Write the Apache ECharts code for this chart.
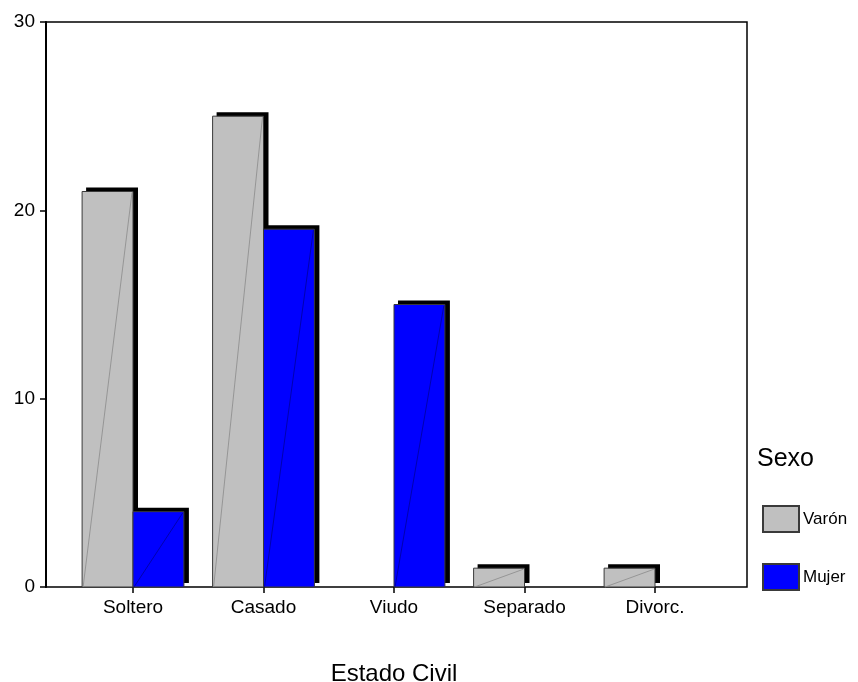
<!DOCTYPE html>
<html>
<head>
<meta charset="utf-8">
<script src="https://cdn.jsdelivr.net/npm/echarts@6/dist/echarts.min.js"></script>
<style>
  html, body { margin: 0; padding: 0; background: #fff; }
  #chart { width: 858px; height: 682px; }
</style>
</head>
<body>
<div id="chart"></div>
<script>
// Estado civil por sexo (recuentos)
const categories = ['Soltero', 'Casado', 'Viudo', 'Separado', 'Divorc.'];
const varon = [21, 25, 0, 1, 1];
const mujer = [4, 19, 15, 0, 0];
const yMin = 0, yMax = 30, yStep = 10;

const FONT = 'Liberation Sans, Arial, sans-serif';

// Bar with a black drop shadow (up-right) and a thin diagonal stroke
function barRenderer(side, fill, diag) {
  return function (params, api) {
    const v = api.value(1);
    if (!v) return null;
    const base = api.coord([api.value(0), 0]);
    const top = api.coord([api.value(0), v]);
    const band = api.size([1, 0])[0];
    const w = band * 0.39;
    const x = side < 0 ? base[0] - w : base[0];
    const y = top[1];
    const h = base[1] - top[1];
    return {
      type: 'group',
      children: [
        { type: 'rect', shape: { x: x + 4, y: y - 4, width: w + 1, height: h },
          style: { fill: '#000' } },
        { type: 'rect', shape: { x: x, y: y, width: w, height: h },
          style: { fill: fill, stroke: '#3a3a3a', lineWidth: 1 } },
        { type: 'line', shape: { x1: x + 1, y1: y + h, x2: x + w - 1, y2: y + 1 },
          style: { stroke: diag, lineWidth: 0.8 } }
      ]
    };
  };
}

const chart = echarts.init(document.getElementById('chart'), null, { renderer: 'canvas' });
chart.setOption({
  animation: false,
  backgroundColor: '#fff',
  title: {
    text: 'Sexo', left: 752, top: 442,
    textStyle: { fontFamily: FONT, fontSize: 25, fontWeight: 'normal', color: '#000' }
  },
  legend: {
    orient: 'vertical', left: 757, top: 500,
    itemWidth: 36, itemHeight: 26, itemGap: 30,
    icon: 'rect',
    textStyle: { fontFamily: FONT, fontSize: 17, color: '#000', padding: [0, 0, 0, -1] },
    data: ['Varón', 'Mujer']
  },
  grid: [
    { left: 46, right: 111, top: 22, bottom: 95, outerBoundsMode: 'none', containLabel: false,
      show: true, borderColor: '#000', borderWidth: 1.5, backgroundColor: 'transparent' },
    { left: 67.75, right: 137.75, top: 22, bottom: 95, outerBoundsMode: 'none', containLabel: false }
  ],
  xAxis: [
    { gridIndex: 0, type: 'value', min: 0, max: 1, show: false },
    {
      gridIndex: 1, type: 'category', data: categories,
      name: 'Estado Civil', nameLocation: 'middle', nameGap: 75,
      nameTextStyle: { fontFamily: FONT, fontSize: 24, color: '#000' },
      axisLine: { show: false },
      axisTick: { show: true, alignWithLabel: true, length: 6, lineStyle: { color: '#000', width: 1.5 } },
      axisLabel: { fontFamily: FONT, fontSize: 19, color: '#000', margin: 11 }
    }
  ],
  yAxis: [
    {
      gridIndex: 0, type: 'value', min: yMin, max: yMax, interval: yStep,
      axisLine: { show: true, lineStyle: { color: '#000', width: 2 } },
      axisTick: { show: true, length: 6, lineStyle: { color: '#000', width: 1.5 } },
      axisLabel: { fontFamily: FONT, fontSize: 19, color: '#000', margin: 11 },
      splitLine: { show: false }
    },
    { gridIndex: 1, type: 'value', min: yMin, max: yMax, interval: yStep, show: false }
  ],
  series: [
    {
      name: 'Varón', type: 'custom', xAxisIndex: 1, yAxisIndex: 1,
      itemStyle: { color: '#c0c0c0', borderColor: '#3a3a3a', borderWidth: 1 },
      renderItem: barRenderer(-1, '#c0c0c0', '#8a8a8a'),
      encode: { x: 0, y: 1 },
      data: varon.map((v, i) => [i, v])
    },
    {
      name: 'Mujer', type: 'custom', xAxisIndex: 1, yAxisIndex: 1,
      itemStyle: { color: '#0000ff', borderColor: '#3a3a3a', borderWidth: 1 },
      renderItem: barRenderer(1, '#0000ff', 'rgba(0,0,110,0.7)'),
      encode: { x: 0, y: 1 },
      data: mujer.map((v, i) => [i, v])
    }
  ]
});
</script>
</body>
</html>
